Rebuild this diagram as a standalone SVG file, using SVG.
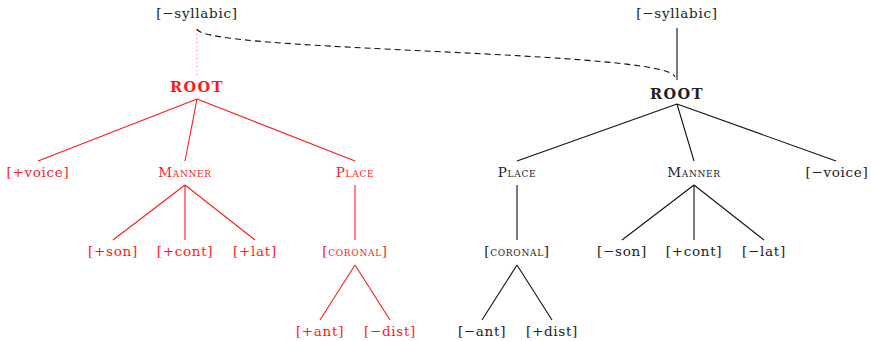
<svg xmlns="http://www.w3.org/2000/svg" width="871" height="341" viewBox="0 0 871 341">
<style>
text{font-family:"DejaVu Serif","Liberation Serif",serif;font-size:13.5px;letter-spacing:0.7px;text-anchor:middle}
.r{fill:#ff1a1a}
.k{fill:#222}
.sc{font-variant:small-caps}
.b{font-weight:bold;font-size:14.5px;letter-spacing:1.5px}
.er{stroke:#ff1a1a;stroke-width:1.1;fill:none}
.ek{stroke:#111;stroke-width:1.1;fill:none}
</style>
<rect width="871" height="341" fill="#fff"/>
<g id="connectors">
<line x1="197" y1="30" x2="197" y2="76" stroke="#ff8080" stroke-width="1.1" stroke-dasharray="1,3"/>
<path d="M197,29 C203,52 670,50 675,77" stroke="#111" stroke-width="1.1" fill="none" stroke-dasharray="6,4"/>
<line class="ek" x1="677" y1="28" x2="677" y2="80"/>
<path class="er" d="M197,99 L38,161 M197,99 L185,161 M197,99 L355,161"/>
<path class="er" d="M185,185 L113,240 M185,185 L185,240 M185,185 L255,240"/>
<path class="er" d="M355,185 L355,240"/>
<path class="er" d="M355,265 L320,320 M355,265 L390,320"/>
<path class="ek" d="M677,104 L517,161 M677,104 L694,161 M677,104 L836,161"/>
<path class="ek" d="M517,185 L517,240"/>
<path class="ek" d="M694,185 L622,240 M694,185 L694,240 M694,185 L764,240"/>
<path class="ek" d="M517,265 L482,320 M517,265 L552,320"/>
</g>
<g id="l-syll"><text class="k" x="197" y="18">[−syllabic]</text></g>
<g id="l-root"><text class="r b" x="197" y="92">ROOT</text></g>
<g id="l-voice"><text class="r" x="38" y="177">[+voice]</text></g>
<g id="l-manner"><text class="r sc" x="185" y="177">Manner</text></g>
<g id="l-place"><text class="r sc" x="355" y="177">Place</text></g>
<g id="l-son"><text class="r" x="113" y="256">[+son]</text></g>
<g id="l-cont"><text class="r" x="185" y="256">[+cont]</text></g>
<g id="l-lat"><text class="r" x="255" y="256">[+lat]</text></g>
<g id="l-coronal"><text class="r" x="355" y="256">[<tspan class="sc">coronal</tspan>]</text></g>
<g id="l-ant"><text class="r" x="320" y="336">[+ant]</text></g>
<g id="l-dist"><text class="r" x="390" y="336">[−dist]</text></g>
<g id="r-syll"><text class="k" x="677" y="18">[−syllabic]</text></g>
<g id="r-root"><text class="k b" x="677" y="99">ROOT</text></g>
<g id="r-place"><text class="k sc" x="517" y="177">Place</text></g>
<g id="r-manner"><text class="k sc" x="694" y="177">Manner</text></g>
<g id="r-voice"><text class="k" x="837" y="177">[−voice]</text></g>
<g id="r-coronal"><text class="k" x="517" y="256">[<tspan class="sc">coronal</tspan>]</text></g>
<g id="r-son"><text class="k" x="622" y="256">[−son]</text></g>
<g id="r-cont"><text class="k" x="694" y="256">[+cont]</text></g>
<g id="r-lat"><text class="k" x="764" y="256">[−lat]</text></g>
<g id="r-ant"><text class="k" x="482" y="336">[−ant]</text></g>
<g id="r-dist"><text class="k" x="552" y="336">[+dist]</text></g>
</svg>
